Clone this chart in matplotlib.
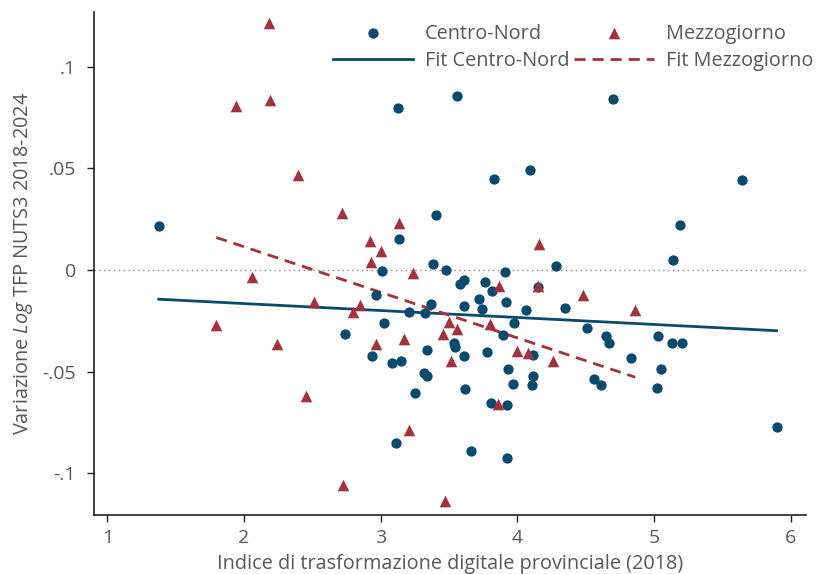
import numpy as np
import matplotlib.pyplot as plt
from matplotlib.ticker import FixedLocator, FixedFormatter

# Centro-Nord provinces: digital index (2018) vs change in log TFP
cn_x = [1.376, 3.126, 3.555, 4.696, 3.826, 4.093, 5.639, 3.406, 3.135, 5.186,
        5.139, 4.284, 3.380, 3.477, 3.011, 3.908, 3.606, 3.582, 3.764, 3.816,
        3.718, 3.916, 3.738, 3.611, 3.365, 4.148, 4.062, 4.349, 2.963, 3.206,
        3.326, 3.024, 3.976, 2.738, 3.892, 3.536, 3.543, 3.340, 3.775, 3.606,
        4.111, 2.938, 3.084, 3.146, 3.320, 3.342, 3.930, 4.111, 3.965, 4.108,
        3.250, 3.616, 3.804, 3.925, 3.109, 3.660, 3.925, 4.506, 4.645, 4.671,
        5.025, 5.130, 5.203, 4.830, 5.047, 4.557, 4.608, 5.020, 5.895]
cn_y = [0.0218, 0.0799, 0.0858, 0.0840, 0.0446, 0.0492, 0.0443, 0.0269, 0.0154, 0.0220,
        0.0048, 0.0018, 0.0028, 0.0000, -0.0003, -0.0010, -0.0049, -0.0070, -0.0061, -0.0103,
        -0.0141, -0.0156, -0.0192, -0.0176, -0.0167, -0.0082, -0.0197, -0.0188, -0.0123, -0.0207,
        -0.0213, -0.0262, -0.0259, -0.0316, -0.0318, -0.0359, -0.0380, -0.0394, -0.0402, -0.0422,
        -0.0417, -0.0425, -0.0459, -0.0448, -0.0509, -0.0522, -0.0489, -0.0520, -0.0561, -0.0566,
        -0.0607, -0.0587, -0.0655, -0.0666, -0.0853, -0.0891, -0.0924, -0.0284, -0.0323, -0.0358,
        -0.0325, -0.0358, -0.0358, -0.0432, -0.0486, -0.0535, -0.0567, -0.0582, -0.0774]

# Mezzogiorno provinces
mz_x = [2.180, 2.192, 1.939, 2.397, 2.716, 2.058, 1.797, 2.512, 2.241, 2.451,
        2.722, 2.999, 2.928, 3.236, 2.848, 2.799, 2.963, 3.172, 3.867, 4.152,
        3.501, 3.560, 3.453, 3.799, 3.996, 4.077, 4.259, 3.511, 3.857, 3.204,
        3.470, 3.133, 2.921, 4.159, 4.481, 4.861]
mz_y = [0.1217, 0.0838, 0.0807, 0.0466, 0.0281, -0.0034, -0.0271, -0.0159, -0.0363, -0.0620,
        -0.1058, 0.0095, 0.0041, -0.0016, -0.0172, -0.0208, -0.0366, -0.0341, -0.0079, -0.0079,
        -0.0256, -0.0292, -0.0315, -0.0266, -0.0400, -0.0407, -0.0446, -0.0448, -0.0661, -0.0787,
        -0.1135, 0.0233, 0.0141, 0.0126, -0.0125, -0.0198]

# fitted lines: (slope, intercept)
fit_cn = (-0.00343, -0.00968)
fit_mz = (-0.02244, 0.0563)

x_ticks = [1, 2, 3, 4, 5, 6]
y_ticks = [-0.1, -0.05, 0, 0.05, 0.1]
y_labels = ['-.1', '-.05', '0', '.05', '.1']

blue = '#0b4a6f'
red = '#a3323f'
grey = '#585858'

plt.rcParams['font.family'] = ['Open Sans', 'DejaVu Sans']
plt.rcParams['mathtext.fontset'] = 'custom'
plt.rcParams['mathtext.rm'] = 'Open Sans'
plt.rcParams['mathtext.it'] = 'Open Sans:italic'

fs = 14.3

fig = plt.figure(figsize=(8.16, 5.74), dpi=100)
ax = fig.add_axes([0.1152, 0.1028, 0.8725, 0.8768])

ax.axhline(0, color='#888888', linestyle=(0, (1, 2.5)), linewidth=1, zorder=1)

ax.scatter(cn_x, cn_y, s=55, marker='o', color=blue, linewidths=0, zorder=3, label='Centro-Nord')
ax.scatter(mz_x, mz_y, s=70, marker='^', color=red, linewidths=0, zorder=3, label='Mezzogiorno')

xr = np.array([min(cn_x), max(cn_x)])
ax.plot(xr, fit_cn[0] * xr + fit_cn[1], color=blue, linewidth=2, zorder=2, label='Fit Centro-Nord')
xr = np.array([min(mz_x), max(mz_x)])
ax.plot(xr, fit_mz[0] * xr + fit_mz[1], color=red, linewidth=2, linestyle=(0, (4, 2.5)),
        zorder=2, label='Fit Mezzogiorno')

ax.set_xlim(0.903, 6.11)
ax.set_ylim(-0.1206, 0.1271)
ax.xaxis.set_major_locator(FixedLocator(x_ticks))
ax.yaxis.set_major_locator(FixedLocator(y_ticks))
ax.yaxis.set_major_formatter(FixedFormatter(y_labels))

for s in ['top', 'right']:
    ax.spines[s].set_visible(False)
for s in ['left', 'bottom']:
    ax.spines[s].set_linewidth(1.2)
    ax.spines[s].set_color('#222222')
ax.tick_params(direction='out', length=5, width=1, color='#222222',
               labelcolor=grey, labelsize=14)
ax.tick_params(axis='y', pad=8)
ax.tick_params(axis='x', pad=5)

ax.set_xlabel('Indice di trasformazione digitale provinciale (2018)', fontsize=fs,
              color=grey, labelpad=5)
ax.set_ylabel('Variazione $\\mathit{Log}$ TFP NUTS3 2018-2024', fontsize=fs,
              color=grey, labelpad=5)

h, l = ax.get_legend_handles_labels()
order = [0, 2, 1, 3]
leg = ax.legend([h[i] for i in order], [l[i] for i in order], ncol=2, frameon=False,
                loc='upper right', bbox_to_anchor=(1.035, 1.012), fontsize=fs,
                handlelength=4.0, columnspacing=0.25, handletextpad=0.6,
                labelspacing=0.38, labelcolor=grey)

fig.savefig('out.png', dpi=100)
